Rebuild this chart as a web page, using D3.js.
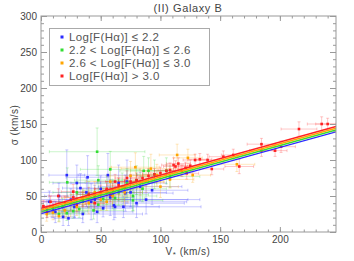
<!DOCTYPE html>
<html>
<head>
<meta charset="utf-8">
<script src="https://cdn.jsdelivr.net/npm/d3@7"></script>
<style>
  body { margin: 0; background: #fff; }
  text { font-family: "Liberation Sans", Arial, sans-serif; fill: #444; }
</style>
</head>
<body>
<div id="chart"></div>
<script>
// points: [V*, sigma, errV, errSigma]
var bluePts = [
    [21.6, 79, 15, 35], [30, 68, 20, 25], [39, 76, 18, 30], [56, 79, 25, 30], [7, 42, 10, 15],
    [33, 61, 15, 20], [12, 28, 20, 15], [18.5, 21, 10, 12], [23, 19, 12, 10], [47, 28, 30, 15],
    [52, 33, 25, 12], [61, 37, 20, 20], [69, 35, 30, 15], [70.6, 54, 40, 25], [80, 40, 40, 20],
    [93, 58, 30, 20], [83, 63, 35, 20], [42, 42, 80, 25], [65, 68, 40, 25], [10, 30, 15, 10],
    [28, 35, 25, 15], [35, 25, 50, 12], [45, 45, 30, 20], [58, 48, 20, 25], [75, 55, 30, 20],
    [15, 50, 12, 18], [5, 32, 20, 12], [25, 45, 98, 15], [38, 55, 40, 20], [50, 60, 20, 18],
    [62, 35, 72, 15], [88, 45, 45, 20], [72, 70, 25, 30]
];
var greenPts = [
    [47, 111.5, 40, 33], [58, 87, 25, 25], [22, 69, 15, 20], [48, 72, 20, 20], [86, 85, 20, 20],
    [90, 85, 15, 18], [77, 44, 25, 15], [77, 50, 20, 20], [21.6, 26, 15, 10], [27, 29, 12, 10],
    [48, 38, 20, 12], [62, 47, 25, 15], [32, 32, 20, 12], [40, 52, 15, 18], [55, 58, 20, 20],
    [68, 62, 18, 20], [72, 68, 25, 20], [15, 25, 10, 10], [35, 42, 20, 15], [60, 52, 30, 20],
    [80, 72, 20, 20], [95, 80, 15, 20], [105, 85, 15, 18], [108, 77, 25, 15], [44, 30, 25, 12],
    [65, 55, 20, 18], [18, 35, 10, 12], [52, 46, 18, 15], [85, 60, 20, 18], [30, 55, 20, 15]
];
var orangePts = [
    [114, 107, 15, 15], [79, 90, 20, 20], [97, 79, 20, 15], [100, 63, 15, 15], [83, 69, 20, 18],
    [4.8, 25, 8, 10], [10, 27, 10, 10], [20, 30, 12, 10], [30, 35, 15, 12], [40, 40, 20, 15],
    [50, 45, 20, 15], [60, 50, 15, 15], [70, 55, 15, 18], [65, 60, 20, 15], [55, 42, 18, 12],
    [123, 103, 12, 12], [164, 94, 15, 10], [127, 79, 15, 10], [108, 73, 20, 12], [45, 55, 15, 15],
    [35, 48, 15, 12], [75, 78, 20, 20], [88, 70, 15, 15], [25, 40, 12, 12], [15, 22, 10, 8],
    [92, 88, 25, 20], [58, 70, 20, 20]
];
var redPts = [
    [111, 93, 10, 10], [108, 86, 10, 10], [14.5, 50, 8, 10], [27, 56, 10, 10], [27, 48, 10, 10],
    [2, 36, 5, 8], [8, 42, 8, 8], [72, 75, 10, 10], [235, 150, 12, 10], [240, 150, 10, 8],
    [216, 143, 15, 10], [184.6, 122, 12, 8], [184.6, 113, 10, 8], [196, 113, 10, 8], [201, 118.5, 12, 8],
    [161, 107, 10, 8], [152.7, 104.6, 12, 8], [143, 87.5, 10, 8], [139.5, 100, 10, 8], [133, 101, 10, 8],
    [166, 91, 12, 10], [121, 89, 10, 8], [112.6, 91, 10, 8], [122, 81.5, 10, 8], [129, 100, 10, 8],
    [35, 45, 8, 10], [40, 52, 10, 10], [45, 40, 8, 10], [50, 55, 10, 10], [55, 60, 10, 10],
    [60, 58, 10, 10], [65, 65, 10, 10], [70, 62, 8, 10], [75, 70, 10, 10], [80, 72, 10, 10],
    [85, 75, 10, 10], [90, 78, 10, 10], [95, 80, 10, 8], [100, 82, 10, 8], [105, 85, 10, 8],
    [20, 40, 8, 10], [30, 38, 8, 10], [45, 50, 8, 10], [58, 52, 8, 10], [10, 35, 8, 8],
    [5, 28, 6, 8], [62, 70, 8, 10], [115, 95, 10, 8], [118, 85, 10, 8], [125, 92, 10, 8]
];

// linear fits: [intercept, slope]
var fits = [[25.5, 0.46], [28, 0.46], [30.5, 0.46], [33, 0.46]];

var seriesColors = ["#2b2bff", "#33dd33", "#ffa500", "#ff2222"];
var legendLabels = ["Log[F(H\u03b1)] \u2264 2.2", "2.2 < Log[F(H\u03b1)] \u2264 2.6",
                    "2.6 < Log[F(H\u03b1)] \u2264 3.0", "Log[F(H\u03b1)] > 3.0"];

var xTicks = [0, 50, 100, 150, 200];
var yTicks = [0, 50, 100, 150, 200, 250, 300];

var width = 354, height = 261;
var margin = {left: 41, right: 18, top: 16, bottom: 29};

var x = d3.scaleLinear().domain([0, 247]).range([margin.left, width - margin.right]);
var y = d3.scaleLinear().domain([0, 300]).range([height - margin.bottom, margin.top]);

var svg = d3.select("#chart").append("svg")
    .attr("width", width).attr("height", height);

svg.append("clipPath").attr("id", "plotClip")
    .append("rect")
    .attr("x", margin.left).attr("y", margin.top)
    .attr("width", width - margin.left - margin.right)
    .attr("height", height - margin.top - margin.bottom);

var plot = svg.append("g").attr("clip-path", "url(#plotClip)");

var allSeries = [bluePts, greenPts, orangePts, redPts];
var cap = 1.5;

// error bars first, light
allSeries.forEach(function (pts, k) {
    var eg = plot.append("g").attr("stroke", seriesColors[k])
        .attr("stroke-opacity", 0.25).attr("stroke-width", 1);
    pts.forEach(function (p) {
        var cx = x(p[0]), cy = y(p[1]);
        var x0 = x(p[0] - p[2]), x1 = x(p[0] + p[2]);
        var y0 = y(p[1] - p[3]), y1 = y(p[1] + p[3]);
        eg.append("line").attr("x1", x0).attr("x2", x1).attr("y1", cy).attr("y2", cy);
        eg.append("line").attr("x1", x0).attr("x2", x0).attr("y1", cy - cap).attr("y2", cy + cap);
        eg.append("line").attr("x1", x1).attr("x2", x1).attr("y1", cy - cap).attr("y2", cy + cap);
        eg.append("line").attr("x1", cx).attr("x2", cx).attr("y1", y0).attr("y2", y1);
        eg.append("line").attr("x1", cx - cap).attr("x2", cx + cap).attr("y1", y0).attr("y2", y0);
        eg.append("line").attr("x1", cx - cap).attr("x2", cx + cap).attr("y1", y1).attr("y2", y1);
    });
});

allSeries.forEach(function (pts, k) {
    plot.append("g").selectAll("rect").data(pts)
        .enter().append("rect")
        .attr("x", function (d) { return x(d[0]) - 1.3; })
        .attr("y", function (d) { return y(d[1]) - 1.3; })
        .attr("width", 2.6).attr("height", 2.6)
        .style("fill", seriesColors[k]);
});

// fit lines, blue at the bottom
var xr = x.domain();
fits.forEach(function (f, k) {
    plot.append("line")
        .attr("x1", x(xr[0])).attr("y1", y(f[0] + f[1] * xr[0]))
        .attr("x2", x(xr[1])).attr("y2", y(f[0] + f[1] * xr[1]))
        .attr("stroke", seriesColors[k]).attr("stroke-width", 1.4);
});

// axes (IDL style: ticks inside, on all four sides)
var axisCol = "#999";
var xMinor = d3.range(0, 247, 10);
var yMinor = d3.range(0, 301, 10);

function styleAxis(g) {
    g.select(".domain").remove();
    g.selectAll(".tick line").attr("stroke", axisCol);
    g.selectAll(".tick text").style("font-size", "10px").style("fill", "#444");
}

svg.append("g").attr("transform", "translate(0," + y(0) + ")")
    .call(d3.axisBottom(x).tickValues(xTicks).tickSize(-5).tickPadding(4).tickFormat(d3.format("d")))
    .call(styleAxis);
svg.append("g").attr("transform", "translate(0," + y(0) + ")")
    .call(d3.axisBottom(x).tickValues(xMinor).tickSize(-2.5).tickFormat(""))
    .call(styleAxis);
svg.append("g").attr("transform", "translate(0," + y(300) + ")")
    .call(d3.axisTop(x).tickValues(xTicks).tickSize(-5).tickFormat(""))
    .call(styleAxis);
svg.append("g").attr("transform", "translate(0," + y(300) + ")")
    .call(d3.axisTop(x).tickValues(xMinor).tickSize(-2.5).tickFormat(""))
    .call(styleAxis);

svg.append("g").attr("transform", "translate(" + x(0) + ",0)")
    .call(d3.axisLeft(y).tickValues(yTicks).tickSize(-6).tickPadding(4).tickFormat(d3.format("d")))
    .call(styleAxis);
svg.append("g").attr("transform", "translate(" + x(0) + ",0)")
    .call(d3.axisLeft(y).tickValues(yMinor).tickSize(-3).tickFormat(""))
    .call(styleAxis);
svg.append("g").attr("transform", "translate(" + x(247) + ",0)")
    .call(d3.axisRight(y).tickValues(yTicks).tickSize(-6).tickFormat(""))
    .call(styleAxis);
svg.append("g").attr("transform", "translate(" + x(247) + ",0)")
    .call(d3.axisRight(y).tickValues(yMinor).tickSize(-3).tickFormat(""))
    .call(styleAxis);

svg.append("rect")
    .attr("x", x(0)).attr("y", y(300))
    .attr("width", x(247) - x(0)).attr("height", y(0) - y(300))
    .attr("fill", "none").attr("stroke", axisCol).attr("stroke-width", 1);

// title and axis labels
svg.append("text").attr("x", 188).attr("y", 12)
    .attr("text-anchor", "middle").style("font-size", "11px").style("letter-spacing", "0.6px")
    .text("(II) Galaxy B");

var xl = svg.append("text").attr("x", 188).attr("y", 255)
    .attr("text-anchor", "middle").style("font-size", "10px").style("letter-spacing", "0.5px");
xl.append("tspan").text("V");
xl.append("tspan").attr("dy", 2).style("font-size", "8px").text("*");
xl.append("tspan").attr("dy", -2).text(" (km/s)");

svg.append("text")
    .attr("transform", "translate(18,125) rotate(-90)")
    .attr("text-anchor", "middle").style("font-size", "10px").style("letter-spacing", "0.5px")
    .text("\u03c3 (km/s)");

// legend
var lg = svg.append("g");
lg.append("rect").attr("x", 49.5).attr("y", 28.5).attr("width", 160).attr("height", 57)
    .attr("fill", "#fff").attr("stroke", "#aaa").attr("stroke-width", 1);
legendLabels.forEach(function (t, k) {
    var ly = 37 + k * 13;
    lg.append("rect").attr("x", 60.5).attr("y", ly - 1.5).attr("width", 3).attr("height", 3)
        .style("fill", seriesColors[k]);
    lg.append("text").attr("x", 69).attr("y", ly + 4)
        .style("font-size", "11.5px").style("letter-spacing", "0.4px").style("fill", "#555")
        .text(t);
});
</script>
</body>
</html>
